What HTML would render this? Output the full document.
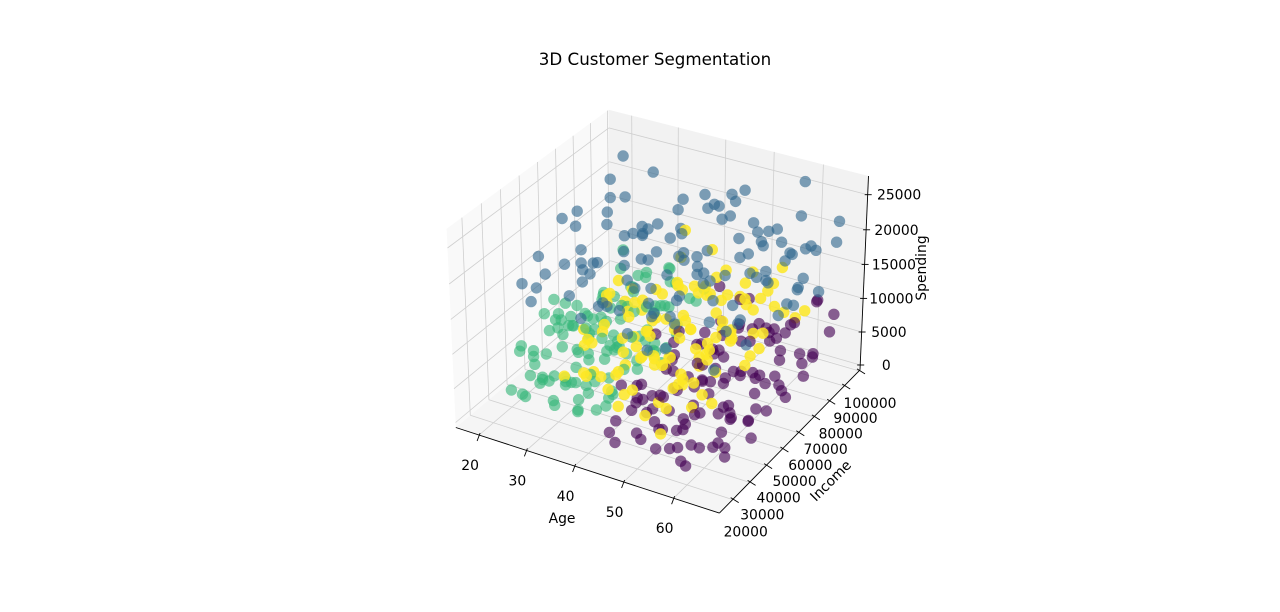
<!DOCTYPE html>
<html><head><meta charset="utf-8">
<style>
html,body{margin:0;padding:0;background:#fff;}
svg{display:block;font-family:"DejaVu Sans","Liberation Sans",sans-serif;}
</style></head>
<body>
<svg id="chart" width="1280" height="612" viewBox="0 0 1280 612" xmlns="http://www.w3.org/2000/svg">
<rect width="1280" height="612" fill="#fff"/>
<text x="655" y="65" text-anchor="middle" font-size="16.7" fill="#000">3D Customer Segmentation</text>
<g id="panes"></g><g id="grid"></g><g id="axes"></g><g id="points"></g>
<text x="562" y="523" text-anchor="middle" font-size="13.9">Age</text>
<text x="0" y="0" text-anchor="middle" font-size="13.9" transform="translate(834,484) rotate(-45)">Income</text>
<text x="0" y="0" text-anchor="middle" font-size="13.9" transform="translate(926,268) rotate(-90)">Spending</text>
</svg>
<script>
// axis limits
const ageLim = [15, 69];
const incomeLim = [12300, 100700];
const spendLim = [-740, 27640];
// tick values
const ageTicks = [20, 30, 40, 50, 60];
const incomeTicks = [20000, 30000, 40000, 50000, 60000, 70000, 80000, 90000, 100000];
const spendTicks = [0, 5000, 10000, 15000, 20000, 25000];
// clusters: [age, income (thousands), spending]
const clusterNames = ["cluster-0", "cluster-1", "cluster-2", "cluster-3"];
const clusterColors = ["#440154", "#31688e", "#35b779", "#fde725"];
const purplePoints = [[42,30,2100],[45,55,4300],[48,72,1500],[51,40,6200],[54,88,3300],[57,25,800],[60,63,5100],[63,47,2700],[41,95,7400],[44,36,3800],[47,80,1200],[50,58,5600],[53,22,2400],[56,69,7900],[59,44,4600],[62,91,1900],[65,52,3500],[43,61,6800],[46,28,5000],[49,85,2900],[52,49,8300],[55,76,600],[58,33,6100],[61,57,4000],[64,98,7200],[40,70,2300],[43,42,4900],[46,93,3100],[49,26,7700],[52,65,1700],[55,38,5400],[58,82,2600],[61,24,3900],[64,60,6500],[42,51,900],[45,74,5800],[48,31,4400],[51,97,2000],[54,46,7000],[57,68,3700],[60,35,1100],[63,79,5300],[41,56,8700],[44,21,3000],[47,66,6300],[50,89,4100],[53,34,2200],[56,54,5900],[59,27,7500],[62,71,1400],[65,41,4700],[47,50,3400],[53,84,6600],[59,48,2800],[44,87,4500],[57,92,5500],[62,38,6900],[50,62,400],[56,29,4200],[60,100,8100],[48,44,1600],[54,23,5200],[63,66,3600],[42,78,2500],[58,57,6000],[51,32,7100],[46,99,5700],[64,30,1800],[55,95,3200],[49,68,4800],
[44,24,800],[47,28,1900],[50,22,3100],[53,30,500],[56,26,2300],[59,22,1300],[62,32,2900],[65,27,4100],[45,34,5200],[48,38,300],[51,27,4700],[54,35,3900],[57,31,1700],[60,40,2100],[63,36,5600],[41,45,3600],[46,48,6400],[52,42,1000],[58,44,3400],[64,46,700],[43,60,4400],[49,56,2600],[55,62,4800],[61,58,1500],[65,64,2700],[42,67,6900],[48,74,3800],[54,70,2800],[60,76,5800],[66,72,4200],[44,82,1300],[50,80,6200],[56,86,4600],[62,84,2500],[47,90,7700],[53,94,3600],[59,88,7100],[65,92,6100],[41,36,5700],[46,40,2400],[52,52,5000],[58,52,900],[64,54,6800],[57,76,8500],[61,96,8900],[50,70,7300],[55,48,6500],[63,88,3300],[45,64,1400],[49,36,6000]];
const bluePoints = [[20,50,14500],[25,72,18200],[30,35,21000],[35,88,16300],[40,60,23500],[45,42,19100],[50,95,15200],[55,28,22400],[60,67,17600],[65,81,20300],[22,90,24100],[27,45,13800],[32,63,19700],[37,25,16900],[42,78,14100],[47,55,21800],[52,33,18500],[57,99,25000],[62,48,13300],[19,70,17200],[24,58,22700],[29,82,15600],[34,40,20900],[39,97,18800],[44,30,24600],[49,65,16100],[54,76,23100],[59,52,14800],[64,38,19400],[21,85,21500],[26,27,16600],[31,93,13100],[36,57,22000],[41,44,17900],[46,86,20600],[51,23,15800],[56,61,24300],[61,91,18100],[23,39,19900],[28,66,23800],[33,79,14300],[38,32,17300],[43,96,21200],[48,47,13600],[53,71,19000],[58,84,16800],[63,56,22100],[30,53,17500],[45,69,15400],[55,88,20000],[35,31,24800],[50,44,18600],[40,99,16400],[60,75,21700],[25,62,13000],[65,58,15900],[42,37,20700],[37,74,12700],[57,41,17000],[47,92,23300],[33,50,12400],[52,85,19600],[62,29,14000],[27,94,21900],[44,64,18300],[54,100,13900],[39,54,22900],[59,94,16700],[49,80,24400],[64,87,12900],
[22,40,15000],[26,55,13500],[30,68,16000],[34,45,14200],[38,60,18000],[42,52,12800],[46,70,15600],[50,58,17400],[54,64,13800],[58,72,16500],[62,80,14600],[66,70,18800],[24,75,19200],[28,88,14900],[32,95,17100],[36,84,13200],[40,90,19800],[44,78,16800],[48,100,14400],[52,92,18300],[56,95,15100],[60,86,12600],[64,98,17800],[20,60,20500],[30,44,19300],[40,38,15800],[50,36,12900],[60,42,16100],[35,65,21200],[45,82,22600],[55,70,20100],[65,96,21400],[28,50,16700],[48,60,20400],[58,62,19600],[38,80,17700],[43,48,13400],[53,55,16200],[63,74,13500],[33,70,15100],[23,30,17900],[47,35,18900],[61,84,23800],[41,72,24800],[26,80,20800],[57,50,21600],[51,88,12200],[36,100,19100],[46,26,16400],[66,60,17300]];
const greenPoints = [[19,45,3200],[22,60,5100],[25,38,2400],[28,72,6800],[31,55,4300],[34,88,7900],[37,42,2100],[20,95,8800],[23,30,1500],[26,67,9400],[29,50,3700],[32,81,5600],[35,35,6200],[38,63,4100],[21,74,2900],[24,52,7300],[27,28,4800],[30,90,3300],[33,47,8400],[36,70,1900],[39,58,5300],[18,66,6400],[22,84,4400],[26,41,9800],[30,62,2700],[34,54,5900],[38,77,3500],[20,36,7000],[24,93,6100],[28,45,1200],[32,68,10500],[36,31,4600],[19,57,9100],[23,79,3900],[27,64,5500],[31,39,7700],[35,86,2300],[21,49,6600],[25,71,4000],[29,98,7200],[33,61,3000],[37,53,8100],[18,40,4900],[22,69,2000],[26,83,6900],[30,46,9500],[34,75,1700],[20,59,3600],[24,33,5800],[28,87,8600],[32,51,4200],[36,65,6300],[25,44,11000],[31,78,800],[37,92,5000],[23,56,7600],[29,37,3400],[35,60,9900],[21,80,5200],[27,48,2600],[33,73,7400],[39,43,6000],[28,56,6700],[34,40,3800],[30,96,5700],[26,58,4500],[22,50,8200],[19,76,2500],[38,85,7100],[32,29,5400],
[20,30,1800],[24,26,3000],[27,35,600],[30,28,2200],[33,33,1000],[36,25,3300],[22,42,1400],[26,32,4200],[29,40,2600],[32,36,1600],[35,45,400],[38,30,2800],[19,52,2000],[23,46,900],[27,55,3100],[31,43,1900],[34,48,2500],[37,38,1300],[21,62,4500],[25,54,3500],[28,65,2300],[31,59,5800],[34,66,4700],[37,56,3900],[40,48,5100],[19,70,5400],[23,64,6300],[27,74,4100],[30,70,7500],[33,84,5200],[36,78,6900],[39,68,3600],[22,88,7800],[26,92,6400],[29,76,8900],[32,90,9300],[35,72,7200],[38,94,6600],[24,48,9000],[28,38,8100],[31,52,10000],[35,50,6800],[21,40,5600],[25,28,5500],[39,36,4400],[40,62,2900],[18,54,7400],[20,82,3900],[30,34,4900],[33,56,6000]];
const yellowPoints = [[30,45,7200],[33,62,9100],[36,38,5400],[39,75,11300],[42,52,6600],[45,88,8400],[48,30,4200],[51,67,10200],[54,41,7700],[57,95,5900],[31,57,12400],[34,82,3800],[37,26,8900],[40,70,6100],[43,47,10800],[46,93,7300],[49,35,5200],[52,60,9600],[55,78,4600],[28,50,8000],[32,73,6700],[35,43,11700],[38,98,5000],[41,33,7900],[44,65,9300],[47,55,3500],[50,84,12000],[53,28,6800],[56,71,8600],[29,90,5600],[33,39,10000],[36,68,7000],[40,58,4400],[43,80,11000],[46,24,8200],[49,48,6300],[52,96,9800],[55,37,5300],[58,63,7500],[27,66,9400],[31,31,6000],[35,86,8700],[39,46,13000],[42,74,5700],[45,36,10500],[48,91,6900],[51,53,8100],[54,22,4800],[57,81,10600],[34,54,15500],[47,64,14200],[38,60,7600],[44,42,12800],[50,76,5500],[41,99,9000],[36,52,4000],[53,45,11500],[46,72,3200],[30,79,6500],[56,57,12200],[43,29,9700],[49,87,8800],[33,94,10400],[39,34,5100],[52,69,7100],[45,50,6400],[37,85,17000],[55,92,13600],[48,40,9200],[42,61,4300],
[32,50,8500],[35,60,6200],[38,45,9900],[41,68,7400],[44,56,5900],[47,75,8900],[50,62,6900],[53,80,9500],[56,66,5000],[36,30,7300],[40,40,9400],[44,34,6100],[48,50,10900],[52,38,7800],[56,46,4000],[31,70,10300],[34,76,5300],[38,88,8300],[42,90,10000],[46,82,4700],[50,94,7600],[54,86,11200],[58,98,6500],[34,64,3600],[40,80,3900],[46,58,12000],[52,52,3000],[57,74,8200],[37,55,12700],[43,66,13400],[49,72,11800],[55,60,10800],[30,58,10700],[28,74,7000],[33,42,4600],[45,44,7700],[51,58,9000],[39,96,12300],[47,98,10100],[53,32,8800],[57,40,11900],[42,84,8600],[48,62,4100],[36,74,9700],[44,26,5600],[54,54,6300],[41,48,7200],[50,46,5400],[35,36,10600],[58,84,9300]];
const clusters = [purplePoints, bluePoints, greenPoints, yellowPoints];

const NS = "http://www.w3.org/2000/svg";
// matplotlib-like perspective projection
const B = [1.143, 1.143, 0.857];
const el = 30*Math.PI/180, az = -60*Math.PI/180;
const R = [B[0]/2, B[1]/2, B[2]/2];
const dir = [Math.cos(el)*Math.cos(az), Math.cos(el)*Math.sin(az), Math.sin(el)];
const eye = [R[0]+10*dir[0], R[1]+10*dir[1], R[2]+10*dir[2]];
function sub(a,b){return [a[0]-b[0],a[1]-b[1],a[2]-b[2]];}
function cross(a,b){return [a[1]*b[2]-a[2]*b[1],a[2]*b[0]-a[0]*b[2],a[0]*b[1]-a[1]*b[0]];}
function dot(a,b){return a[0]*b[0]+a[1]*b[1]+a[2]*b[2];}
function norm(a){const l=Math.hypot(a[0],a[1],a[2]);return [a[0]/l,a[1]/l,a[2]/l];}
const w = norm(sub(eye,R));
const u = norm(cross([0,0,1], w));
const v = cross(w, u);
function rawProj(n){
  const p=[n[0]*B[0],n[1]*B[1],n[2]*B[2]];
  const d=sub(p,eye);
  const depth=-dot(d,w);
  return [dot(d,u)/depth, dot(d,v)/depth, depth];
}
const fitN = [[0,1,1],[0,0,1],[0,0,0],[1,0,0],[1,1,0],[1,1,1]];
const fitS = [[609,110],[447,227],[455,428],[720,513],[860,370],[868,177]];
function regress(xs,ys){const n=xs.length;const mx=xs.reduce((a,b)=>a+b)/n,my=ys.reduce((a,b)=>a+b)/n;let sxy=0,sxx=0;for(let i=0;i<n;i++){sxy+=(xs[i]-mx)*(ys[i]-my);sxx+=(xs[i]-mx)**2;}const a=sxy/sxx;return [a,my-a*mx];}
const rp = fitN.map(rawProj);
const fx = regress(rp.map(p=>p[0]), fitS.map(s=>s[0]));
const fy = regress(rp.map(p=>p[1]), fitS.map(s=>s[1]));
function projN(n){const r=rawProj(n);return [fx[0]*r[0]+fx[1], fy[0]*r[1]+fy[1], r[2]];}
function nA(a){return (a-ageLim[0])/(ageLim[1]-ageLim[0]);}
function nI(i){return (i-incomeLim[0])/(incomeLim[1]-incomeLim[0]);}
function nS(s){return (s-spendLim[0])/(spendLim[1]-spendLim[0]);}
function P(a,i,s){return projN([nA(a),nI(i),nS(s)]);}

function poly(g, pts, fill, name){
  const e=document.createElementNS(NS,"polygon");
  e.setAttribute("points", pts.map(p=>p[0].toFixed(1)+","+p[1].toFixed(1)).join(" "));
  e.setAttribute("fill", fill);
  
  
  g.appendChild(e);
}
function line(g,p,q,stroke,wd,name){
  const e=document.createElementNS(NS,"line");
  e.setAttribute("x1",p[0].toFixed(1));e.setAttribute("y1",p[1].toFixed(1));
  e.setAttribute("x2",q[0].toFixed(1));e.setAttribute("y2",q[1].toFixed(1));
  e.setAttribute("stroke",stroke);e.setAttribute("stroke-width",wd);
  
  
  g.appendChild(e);
}
function text(g,x,y,str,anchor,name){
  const e=document.createElementNS(NS,"text");
  e.setAttribute("x",x.toFixed(1));e.setAttribute("y",y.toFixed(1));
  e.setAttribute("text-anchor",anchor);e.setAttribute("font-size","13.9");
  e.textContent=str;
  
  
  g.appendChild(e);
}
const panes=document.getElementById("panes"), grid=document.getElementById("grid"), axes=document.getElementById("axes"), ptsG=document.getElementById("points");
poly(panes,[[0,0,0],[0,1,0],[0,1,1],[0,0,1]].map(projN),"#f9f9f9","left-pane");
poly(panes,[[0,1,0],[1,1,0],[1,1,1],[0,1,1]].map(projN),"#f2f2f2","back-pane");
poly(panes,[[0,0,0],[1,0,0],[1,1,0],[0,1,0]].map(projN),"#f5f5f5","floor-pane");
const GC="#cfcfcf";
ageTicks.forEach(a=>{const t=nA(a);
  line(grid,projN([t,0,0]),projN([t,1,0]),GC,0.8,"age-gridline-floor");
  line(grid,projN([t,1,0]),projN([t,1,1]),GC,0.8,"age-gridline-back");});
incomeTicks.forEach(i=>{const t=nI(i);
  line(grid,projN([0,t,0]),projN([1,t,0]),GC,0.8,"income-gridline-floor");
  line(grid,projN([0,t,0]),projN([0,t,1]),GC,0.8,"income-gridline-left");});
spendTicks.forEach(s=>{const t=nS(s);
  line(grid,projN([0,0,t]),projN([0,1,t]),GC,0.8,"spending-gridline-left");
  line(grid,projN([0,1,t]),projN([1,1,t]),GC,0.8,"spending-gridline-back");});
line(axes,projN([0,0,0]),projN([1,0,0]),"#000",0.9,"x-axis-line");
line(axes,projN([1,0,0]),projN([1,1,0]),"#000",0.9,"y-axis-line");
line(axes,projN([1,1,0]),projN([1,1,1]),"#000",0.9,"z-axis-line");
ageTicks.forEach(a=>{const p=P(a,incomeLim[0],spendLim[0]);
  line(axes,[p[0]+1,p[1]-2],[p[0]-2,p[1]+6],"#000",0.9,"x-tick");
  text(axes,p[0]-9,p[1]+35,String(a),"middle","x-tick-label");});
incomeTicks.forEach((i,k)=>{const p=P(ageLim[1],i,spendLim[0]);const t=k/(incomeTicks.length-1);
  line(axes,[p[0]-2,p[1]-2],[p[0]+6,p[1]+3],"#000",0.9,"y-tick");
  text(axes,p[0]+13-2*t,p[1]+37,String(i),"middle","y-tick-label");});
spendTicks.forEach(s=>{const p=P(ageLim[1],incomeLim[1],s);
  line(axes,[p[0]-3,p[1]],[p[0]+4,p[1]],"#000",0.9,"z-tick");
  text(axes,p[0]+26+(nS(s))*6,p[1]+5,String(s),"middle","z-tick-label");});
const all=[];
clusters.forEach((arr,c)=>arr.forEach(d=>{const p=P(d[0],d[1]*1000,d[2]);all.push({p,c});}));
all.sort((a,b)=>b.p[2]-a.p[2]);
all.forEach(o=>{
  const e=document.createElementNS(NS,"circle");
  e.setAttribute("cx",o.p[0].toFixed(1));e.setAttribute("cy",o.p[1].toFixed(1));
  e.setAttribute("r","5.7");e.setAttribute("fill",clusterColors[o.c]);
  e.setAttribute("fill-opacity",o.c===3?"0.85":"0.62");
  
  
  ptsG.appendChild(e);
});
</script>
</body></html>
